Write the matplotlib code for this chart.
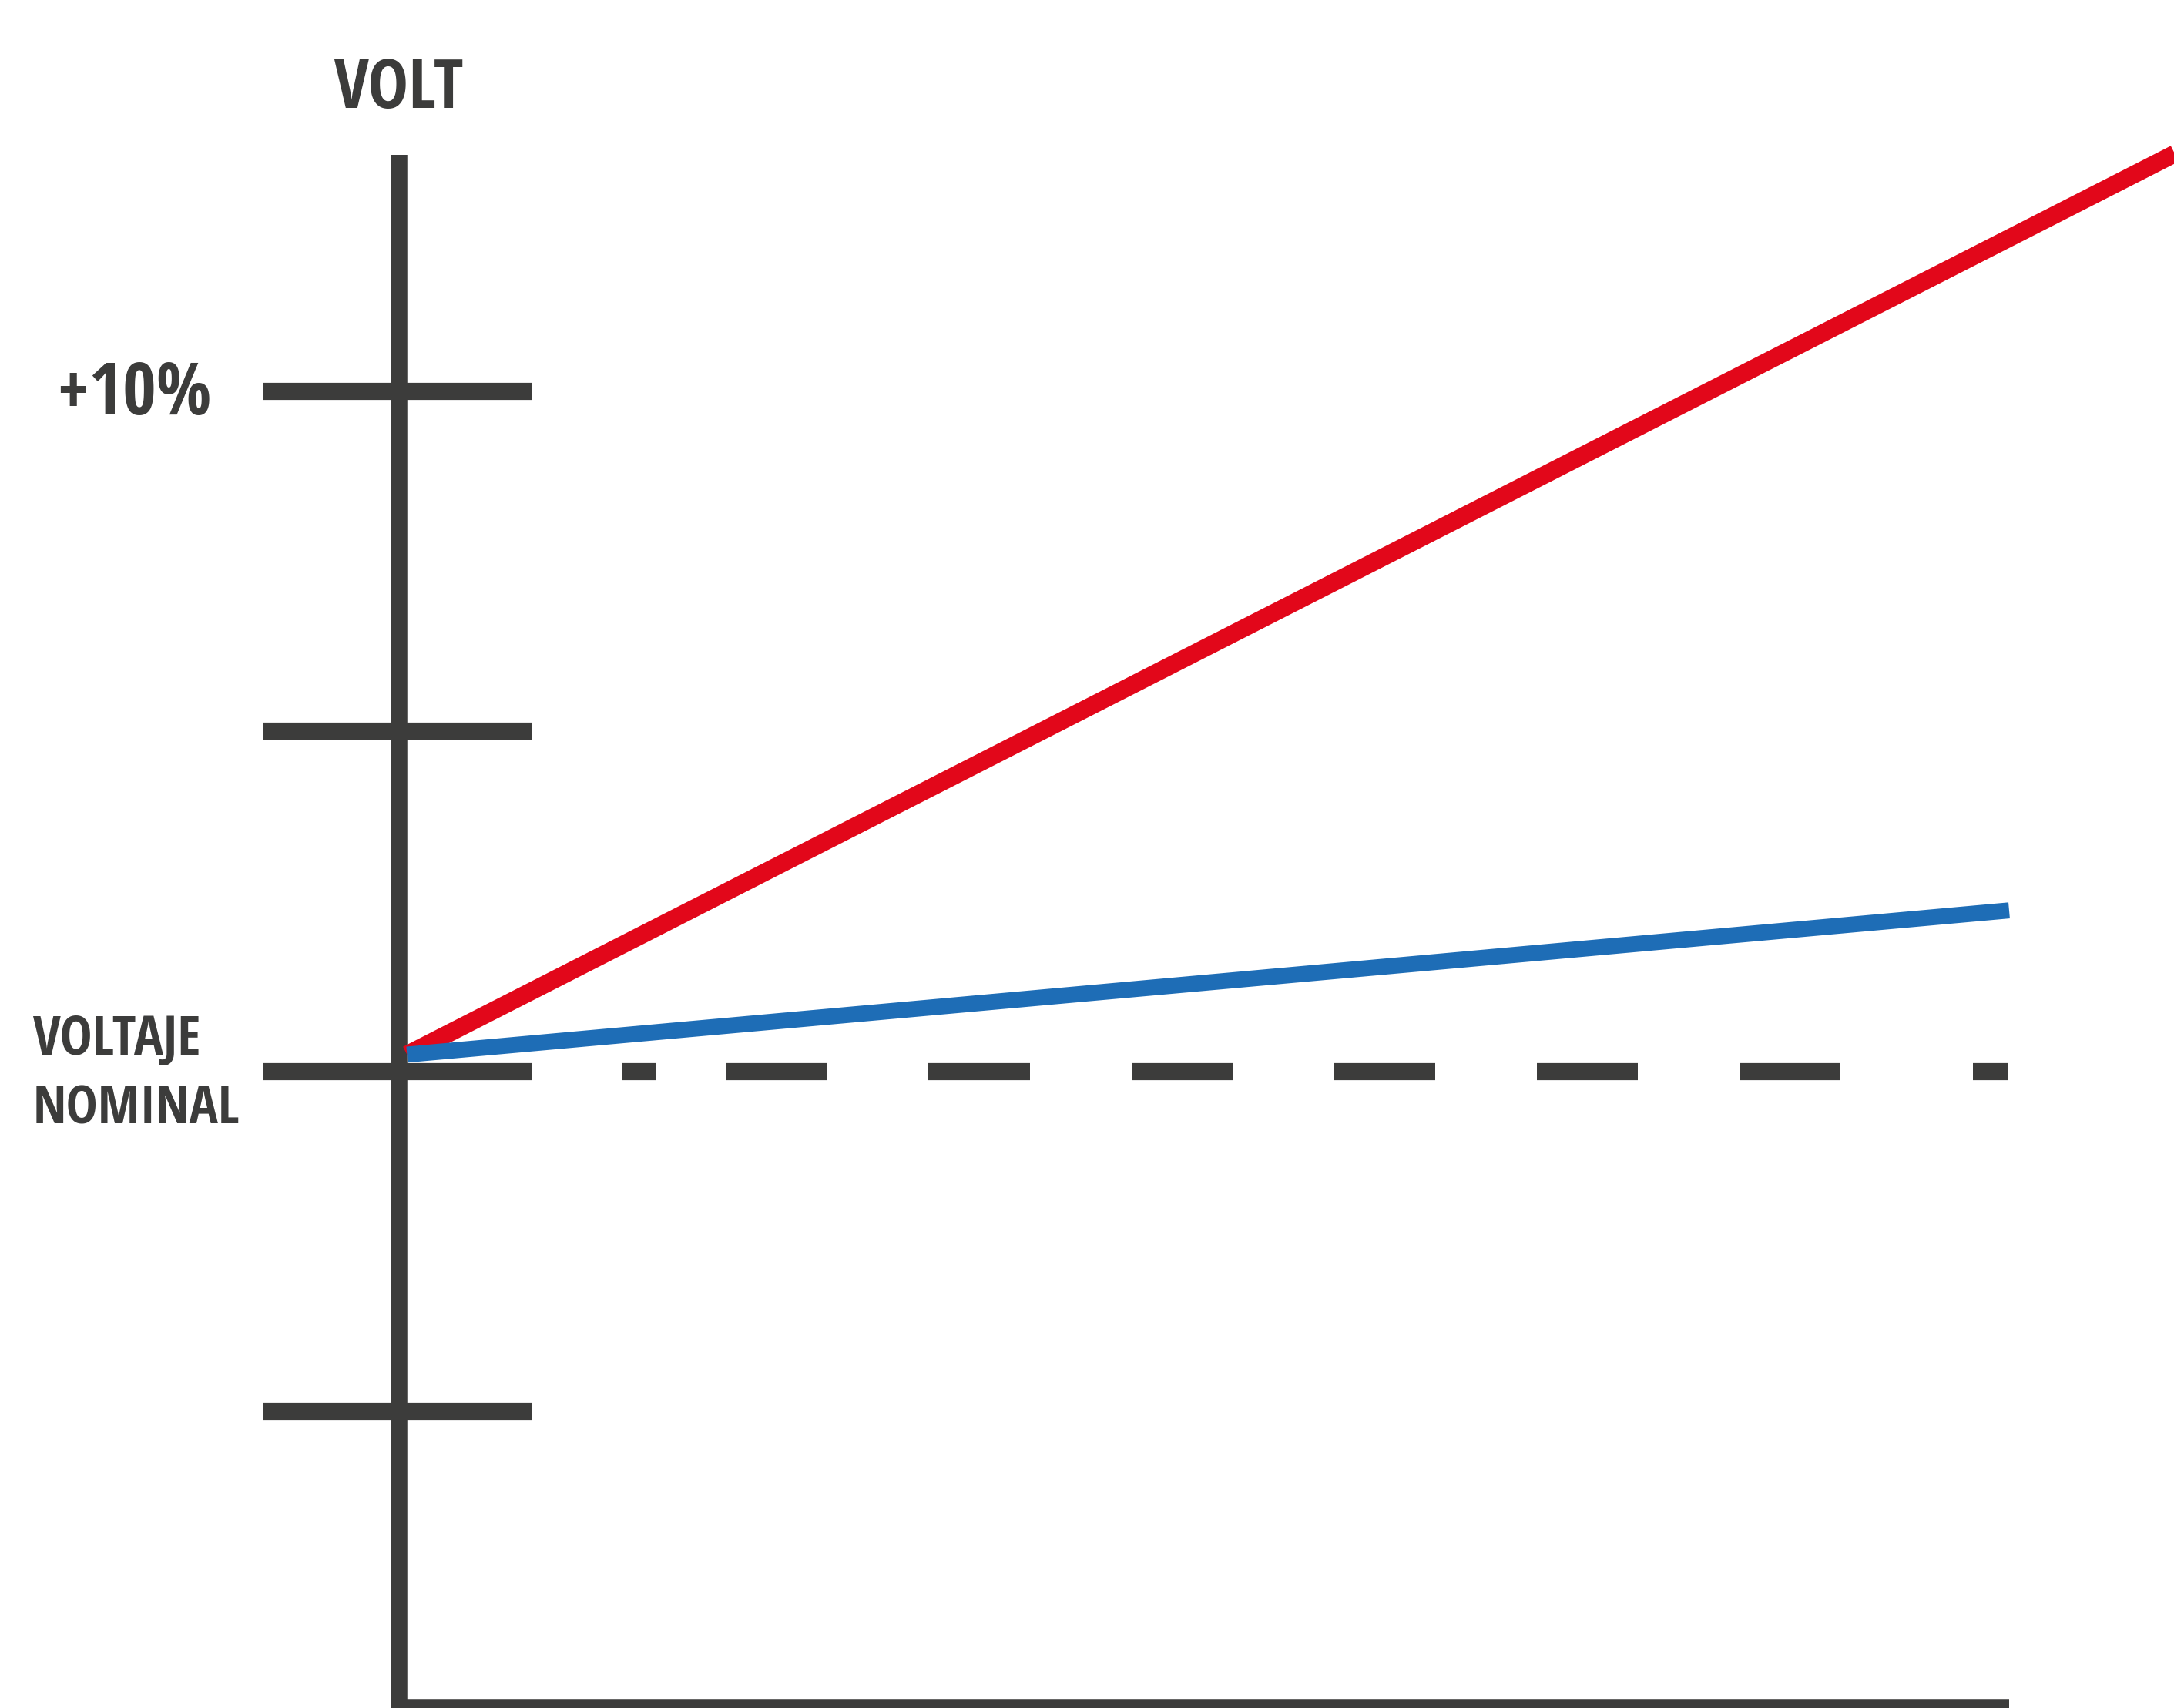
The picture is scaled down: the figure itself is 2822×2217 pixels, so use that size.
import matplotlib
matplotlib.use('Agg')
import matplotlib.pyplot as plt

plt.rcParams['lines.scale_dashes'] = False

# --- data ---
tick_values = [-5, 5, 10, 0]          # % deviation from nominal voltage
time = [0.005, 1.0]                    # normalised time (axis runs 0..1)
blue_y = [0.25, 2.37]                  # % over nominal
red_time = [0.005, 1.12]               # red keeps going past the end of the axis
red_y = [0.25, 13.7]
y_top = 13.48                          # top of vertical axis
y_bottom = -9.348                      # horizontal axis, half cut by the edge

gray = '#3c3c3b'
red = '#e2071a'
blue = '#1e6db6'
fonts = ['Open Sans Condensed', 'Liberation Sans Narrow', 'DejaVu Sans']

fig = plt.figure(figsize=(28.22, 22.17), dpi=100)
ax = fig.add_axes([0, 0, 1, 1])
ax.axis('off')
ax.set_xlim(-0.2478, 1.1024)
ax.set_ylim(-9.355, 15.753)

# axes drawn by hand
ax.plot([0, 0], [y_bottom, y_top], color=gray, lw=15.5, solid_capstyle='butt')
ax.plot([-0.005, 1.0], [y_bottom, y_bottom], color=gray, lw=15.5,
        solid_capstyle='butt', clip_on=False)
for v in tick_values:
    ax.plot([-0.0847, 0.0828], [v, v], color=gray, lw=16, solid_capstyle='butt')

# dashed nominal line (px at 100 dpi -> pt)
dash_px = [45, 90, 131, 132, 132, 132, 131, 131, 132, 132, 131, 132, 131, 172, 46, 50]
ax.plot([0.1383, 0.9995], [0, 0], color=gray, lw=16, solid_capstyle='butt',
        dashes=[d * 0.72 for d in dash_px])

ax.plot(red_time, red_y, color=red, lw=16.5, solid_capstyle='butt')
ax.plot(time, blue_y, color=blue, lw=15, solid_capstyle='butt')

# labels
ax.text(0.0, 14.17, 'VOLT', family=fonts, weight='bold', fontsize=64,
        color=gray, ha='center', va='baseline')
ax.text(-0.1648, 9.66, '+10%', family=fonts, weight='bold', fontsize=68,
        color=gray, ha='center', va='baseline')
ax.text(-0.2273, 0.25, 'VOLTAJE', family=fonts, weight='bold', fontsize=51,
        color=gray, ha='left', va='baseline')
ax.text(-0.2273, -0.77, 'NOMINAL', family=fonts, weight='bold', fontsize=50,
        color=gray, ha='left', va='baseline')

plt.savefig('out.png', dpi=100)
